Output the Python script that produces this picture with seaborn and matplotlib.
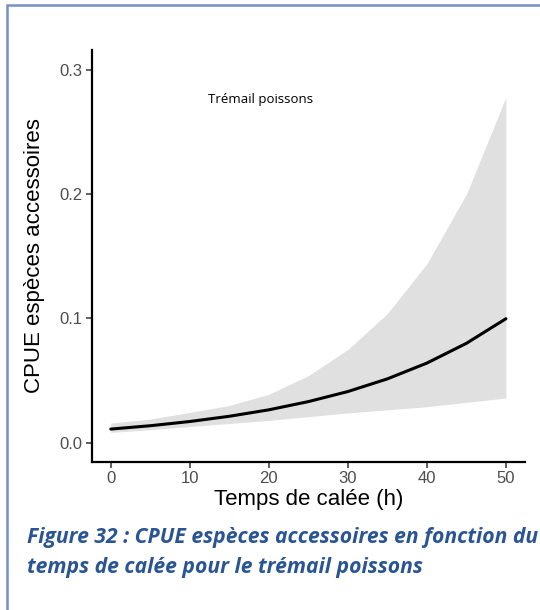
import matplotlib
matplotlib.use("Agg")
import matplotlib.pyplot as plt
import matplotlib.patches as mpatches
import seaborn as sns
import pandas as pd

# Data
temps = [0, 5, 10, 15, 20, 25, 30, 35, 40, 45, 50]
cpue = [0.0110, 0.0137, 0.0171, 0.0213, 0.0265, 0.0331, 0.0412, 0.0514, 0.0641, 0.0800, 0.0998]
ic_bas = [0.0083, 0.0105, 0.0131, 0.0155, 0.0180, 0.0210, 0.0240, 0.0265, 0.0290, 0.0325, 0.0360]
ic_haut = [0.0158, 0.0190, 0.0244, 0.0300, 0.0390, 0.0540, 0.0750, 0.1040, 0.1440, 0.2000, 0.2780]
x_ticks = [0, 10, 20, 30, 40, 50]
y_ticks = [0.0, 0.1, 0.2, 0.3]
y_tick_labels = ["0.0", "0.1", "0.2", "0.3"]

df = pd.DataFrame({"temps": temps, "cpue": cpue, "bas": ic_bas, "haut": ic_haut})

sns.set_theme(style="white")
plt.rcParams["font.family"] = ["Liberation Sans", "DejaVu Sans"]

fig = plt.figure(figsize=(5.4, 6.1), dpi=100)
ax = fig.add_axes([0.170, 0.243, 0.802, 0.675])

ax.fill_between(df["temps"], df["bas"], df["haut"], color="#e0e0e0", linewidth=0)
sns.lineplot(data=df, x="temps", y="cpue", ax=ax, color="black", linewidth=2.2)

ax.set_xlim(-2.4, 52.4)
ax.set_ylim(-0.0153, 0.316)
ax.set_xticks(x_ticks)
ax.set_yticks(y_ticks)
ax.set_yticklabels(y_tick_labels)

for s in ["top", "right"]:
    ax.spines[s].set_visible(False)
for s in ["left", "bottom"]:
    ax.spines[s].set_color("black")
    ax.spines[s].set_linewidth(1.6)

ax.tick_params(axis="both", which="major", length=4, width=1.1, color="#333333",
               labelcolor="#4d4d4d", labelsize=12, direction="out", bottom=True, left=True, pad=3)

ax.set_xlabel("Temps de calée (h)", fontsize=16, color="black", labelpad=2)
ax.set_ylabel("CPUE espèces accessoires", fontsize=16, color="black", labelpad=10)

ax.text(19, 0.276, "Trémail poissons", ha="center", va="center", fontsize=9.5,
        family=["Open Sans", "DejaVu Sans"], color="black")

# Caption
cap_kw = dict(ha="left", va="center", fontsize=15.2, fontweight="bold", fontstyle="italic",
              color="#2a5595", family=["Open Sans", "DejaVu Sans"])
fig.text(27 / 540, 1 - 538 / 610, "Figure 32 : CPUE espèces accessoires en fonction du", **cap_kw)
fig.text(27 / 540, 1 - 567 / 610, "temps de calée pour le trémail poissons", **cap_kw)

# Frame
rect = mpatches.Rectangle((7 / 540, -0.05), 1.2, 1 - 5 / 610 + 0.05, transform=fig.transFigure,
                          fill=False, edgecolor="#7491c0", linewidth=1.8, clip_on=False)
fig.patches.append(rect)

fig.savefig("out.png", dpi=100)
